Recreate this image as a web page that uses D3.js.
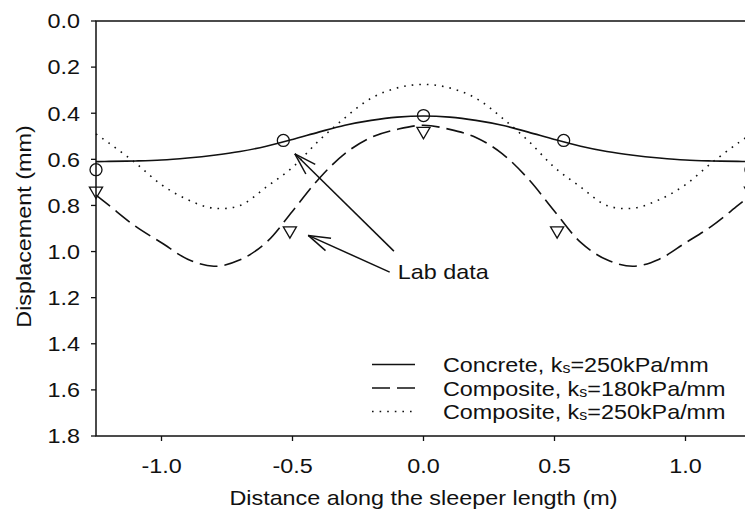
<!DOCTYPE html>
<meta charset="utf-8">
<style>
body { margin: 0; background: #fff; }
text {
    font-family: 'Liberation Sans', Arial, sans-serif;
    font-size: 20.5px;
    fill: #111;
}
</style>
<svg id="chart" width="745" height="518"></svg>
<script src="https://d3js.org/d3.v7.min.js"></script>
<script>

// distance along sleeper (m)
var xs = [-1.25, -1.2, -1.1, -1.0, -0.9, -0.8, -0.7, -0.6, -0.5, -0.4, -0.3, -0.2, -0.1, 0,
          0.1, 0.2, 0.3, 0.4, 0.5, 0.6, 0.7, 0.8, 0.9, 1.0, 1.1, 1.2, 1.25];

// displacement (mm)
var concrete250 = [0.610, 0.609, 0.607, 0.603, 0.594, 0.582, 0.566, 0.543, 0.514, 0.482, 0.452, 0.431, 0.417, 0.412,
                   0.417, 0.431, 0.452, 0.482, 0.514, 0.543, 0.566, 0.582, 0.594, 0.603, 0.607, 0.609, 0.610];
var composite180 = [0.755, 0.80, 0.89, 0.962, 1.033, 1.064, 1.036, 0.96, 0.825, 0.685, 0.575, 0.505, 0.47, 0.452,
                    0.47, 0.505, 0.575, 0.685, 0.825, 0.96, 1.036, 1.064, 1.033, 0.962, 0.89, 0.80, 0.755];
var composite250 = [0.49, 0.53, 0.615, 0.71, 0.775, 0.812, 0.80, 0.72, 0.635, 0.52, 0.42, 0.335, 0.29, 0.275,
                    0.29, 0.335, 0.42, 0.52, 0.635, 0.72, 0.80, 0.812, 0.775, 0.71, 0.615, 0.53, 0.49];

// lab data
var labConcreteX = [-1.25, -0.535, 0, 0.535, 1.25];
var labConcreteY = [0.645, 0.518, 0.41, 0.518, 0.645];
var labCompositeX = [-1.25, -0.51, 0, 0.51, 1.25];
var labCompositeY = [0.737, 0.909, 0.478, 0.909, 0.737];

var xTicks = [-1.0, -0.5, 0.0, 0.5, 1.0];
var yTicks = [0.0, 0.2, 0.4, 0.6, 0.8, 1.0, 1.2, 1.4, 1.6, 1.8];

var legendNames = [
    ["Concrete, k", "s", "=250kPa/mm"],
    ["Composite, k", "s", "=180kPa/mm"],
    ["Composite, k", "s", "=250kPa/mm"]
];

var svg = d3.select("#chart"),
    margin = {top: 21, right: -6, bottom: 82, left: 96},
    width = +svg.attr("width") - margin.left - margin.right,
    height = +svg.attr("height") - margin.top - margin.bottom;

var SX = 1.14; // the original font is set wide

var x = d3.scaleLinear().domain([-1.25, 1.25]).range([0, width]);
var y = d3.scaleLinear().domain([0, 1.8]).range([0, height]);

var g = svg.append("g").attr("transform", "translate(" + margin.left + "," + margin.top + ")");

// frame
g.append("rect")
    .attr("width", width).attr("height", height)
    .attr("fill", "none").attr("stroke", "#111").attr("stroke-width", 1.5);

// y ticks + labels
yTicks.forEach(function(t) {
    g.append("line")
        .attr("x1", -5).attr("x2", 0)
        .attr("y1", y(t)).attr("y2", y(t))
        .attr("stroke", "#111").attr("stroke-width", 1.3);
    g.append("text")
        .attr("transform", "translate(-16," + y(t) + ") scale(" + SX + ",1)")
        .attr("dy", "0.36em")
        .attr("text-anchor", "end")
        .text(t.toFixed(1));
});

// x ticks + labels
xTicks.forEach(function(t) {
    g.append("line")
        .attr("x1", x(t)).attr("x2", x(t))
        .attr("y1", height).attr("y2", height + 5)
        .attr("stroke", "#111").attr("stroke-width", 1.3);
    g.append("text")
        .attr("transform", "translate(" + x(t) + "," + (height + 37) + ") scale(" + SX + ",1)")
        .attr("text-anchor", "middle")
        .text(t.toFixed(1));
});

// axis titles
svg.append("text")
    .attr("transform", "translate(" + (margin.left + x(0)) + ",505) scale(" + SX + ",1)")
    .attr("text-anchor", "middle")
    .text("Distance along the sleeper length (m)");

svg.append("text")
    .attr("transform", "translate(31," + (margin.top + y(0.9) - 2) + ") rotate(-90) scale(" + SX + ",1)")
    .attr("text-anchor", "middle")
    .text("Displacement (mm)");

// curves
var line = d3.line()
    .x(function(d) { return x(d[0]); })
    .y(function(d) { return y(d[1]); })
    .curve(d3.curveCatmullRom);

var styles = [
    {data: concrete250, dash: null, width: 1.6},
    {data: composite180, dash: "18,7", width: 1.6},
    {data: composite250, dash: "1.6,6", width: 1.6}
];

styles.forEach(function(s) {
    g.append("path")
        .datum(xs.map(function(v, i) { return [v, s.data[i]]; }))
        .attr("d", line)
        .attr("fill", "none")
        .attr("stroke", "#111")
        .attr("stroke-width", s.width)
        .attr("stroke-dasharray", s.dash);
});

// lab data markers
g.selectAll(".circ")
    .data(labConcreteX)
    .enter().append("circle")
    .attr("cx", function(d) { return x(d); })
    .attr("cy", function(d, i) { return y(labConcreteY[i]); })
    .attr("r", 6)
    .attr("fill", "none").attr("stroke", "#111").attr("stroke-width", 1.3);

var tri = d3.symbol().type(d3.symbolTriangle).size(75);
g.selectAll(".tri")
    .data(labCompositeX)
    .enter().append("path")
    .attr("d", tri)
    .attr("transform", function(d, i) { return "translate(" + x(d) + "," + y(labCompositeY[i]) + ") rotate(180)"; })
    .attr("fill", "none").attr("stroke", "#111").attr("stroke-width", 1.3);

// "Lab data" annotation
var arrows = [
    {from: [-0.113, 0.998], to: [-0.491, 0.576]},
    {from: [-0.129, 1.089], to: [-0.44, 0.930]}
];

arrows.forEach(function(a) {
    var x1 = x(a.from[0]), y1 = y(a.from[1]),
        x2 = x(a.to[0]), y2 = y(a.to[1]);
    var ang = Math.atan2(y1 - y2, x1 - x2),
        len = 23, spread = 17 * Math.PI / 180;
    g.append("line")
        .attr("x1", x1).attr("y1", y1).attr("x2", x2).attr("y2", y2)
        .attr("stroke", "#111").attr("stroke-width", 1.5);
    [-spread, spread].forEach(function(s) {
        g.append("line")
            .attr("x1", x2).attr("y1", y2)
            .attr("x2", x2 + len * Math.cos(ang + s))
            .attr("y2", y2 + len * Math.sin(ang + s))
            .attr("stroke", "#111").attr("stroke-width", 1.5);
    });
});

g.append("text")
    .attr("transform", "translate(" + x(-0.098) + "," + y(1.117) + ") scale(" + SX + ",1)")
    .text("Lab data");

// legend
var legend = g.append("g").attr("transform", "translate(" + (372 - margin.left) + "," + (372 - margin.top) + ")");

legendNames.forEach(function(parts, i) {
    var row = legend.append("g").attr("transform", "translate(0," + (i * 23.5) + ")");
    row.append("line")
        .attr("x1", 0).attr("x2", 43)
        .attr("y1", -7.5).attr("y2", -7.5)
        .attr("stroke", "#111")
        .attr("stroke-width", styles[i].width)
        .attr("stroke-dasharray", styles[i].dash);
    var t = row.append("text")
        .attr("transform", "translate(71,0) scale(" + SX + ",1)");
    t.append("tspan").text(parts[0]);
    t.append("tspan").attr("font-size", "14px").attr("dy", 1).text(parts[1]);
    t.append("tspan").attr("dy", -1).text(parts[2]);
});

</script>
